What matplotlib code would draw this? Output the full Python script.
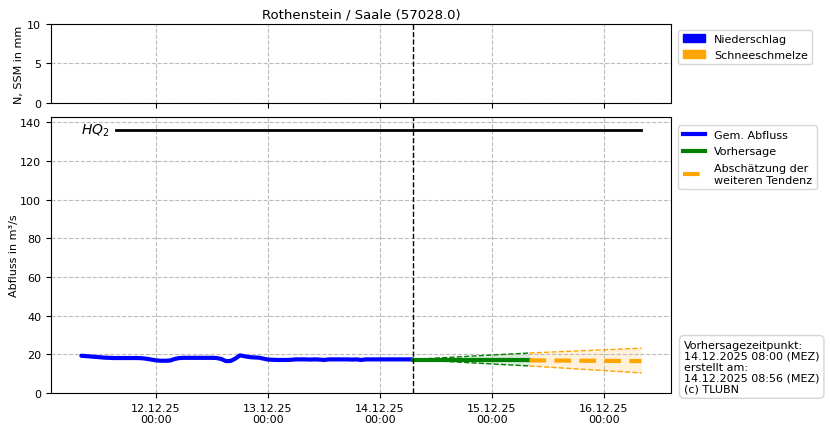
import matplotlib
matplotlib.use("Agg")
import matplotlib.pyplot as plt
import matplotlib.dates as mdates
from matplotlib.patches import Patch
from matplotlib.lines import Line2D
import pandas as pd

plt.rcParams['font.family'] = ['DejaVu Sans']

title = "Rothenstein / Saale (57028.0)"

# measured discharge, hourly from 11.12.2025 08:00 to 14.12.2025 07:00
obs_start = "2025-12-11 08:00"
obs_values = [
    19.3, 19.1, 18.9, 18.7, 18.5, 18.3, 18.2, 18.1, 18.1, 18.1,
    18.1, 18.1, 18.1, 18.0, 17.7, 17.3, 16.9, 16.7, 16.7, 16.8,
    17.6, 18.1, 18.2, 18.2, 18.2, 18.2, 18.2, 18.2, 18.2, 18.1,
    17.6, 16.5, 16.6, 17.8, 19.5, 19.0, 18.6, 18.4, 18.3, 17.8,
    17.3, 17.2, 17.1, 17.1, 17.1, 17.2, 17.4, 17.4, 17.4, 17.3,
    17.4, 17.3, 17.1, 17.4, 17.4, 17.4, 17.4, 17.4, 17.3, 17.4,
    17.1, 17.4, 17.4, 17.4, 17.4, 17.4, 17.4, 17.4, 17.4, 17.4,
    17.4, 17.4,
]

# forecast (green), 14.12 07:00 -> 15.12 08:00
fc_times = ["2025-12-14 07:00", "2025-12-14 13:00", "2025-12-14 19:00",
            "2025-12-15 01:00", "2025-12-15 08:00"]
fc_mid = [17.3, 17.3, 17.3, 17.3, 17.3]
fc_upper = [17.3, 18.2, 19.0, 19.8, 20.7]
fc_lower = [17.3, 16.5, 15.7, 14.9, 14.0]

# further tendency (orange), 15.12 08:00 -> 16.12 08:00
tend_times = ["2025-12-15 08:00", "2025-12-16 08:00"]
tend_mid = [16.9, 16.5]
tend_upper = [20.7, 23.2]
tend_lower = [14.0, 10.4]

hq2_value = 136
hq2_times = ["2025-12-11 15:30", "2025-12-16 08:00"]

forecast_time = "2025-12-14 07:00"
xlim = ["2025-12-11 01:30", "2025-12-16 14:20"]

info_text = ("Vorhersagezeitpunkt:\n14.12.2025 08:00 (MEZ)\nerstellt am:\n"
             "14.12.2025 08:56 (MEZ)\n(c) TLUBN")

obs_t = pd.date_range(obs_start, periods=len(obs_values), freq="h")
fc_t = pd.to_datetime(fc_times)
tend_t = pd.to_datetime(tend_times)
hq_t = pd.to_datetime(hq2_times)
ft = pd.Timestamp(forecast_time)
xl = pd.to_datetime(xlim)

fig = plt.figure(figsize=(8.3, 4.31), dpi=100)
ax1 = fig.add_axes([0.0614, 0.7587, 0.747, 0.1833])
ax2 = fig.add_axes([0.0614, 0.0858, 0.747, 0.6404], sharex=ax1)

grid_kw = dict(color="#bbbbbb", linestyle="--", linewidth=0.8)

# top panel
ax1.set_ylim(0, 10)
ax1.set_yticks([0, 5, 10])
ax1.grid(True, **grid_kw)
ax1.axvline(ft, color="black", linestyle="--", linewidth=1)
ax1.set_ylabel("N, SSM in mm", fontsize=8, labelpad=2)
ax1.tick_params(labelsize=8, labelbottom=False)
ax1.set_title(title, fontsize=9.5, pad=5)
ax1.legend(handles=[Patch(color="blue", label="Niederschlag"),
                    Patch(color="orange", label="Schneeschmelze")],
           loc="upper left", bbox_to_anchor=(1.003, 1.0), fontsize=8)

# bottom panel
ax2.plot(obs_t, obs_values, color="blue", linewidth=3, solid_capstyle="round")
ax2.fill_between(fc_t, fc_lower, fc_upper, color="green", alpha=0.15, linewidth=0)
ax2.plot(fc_t, fc_upper, color="green", linestyle="--", linewidth=1)
ax2.plot(fc_t, fc_lower, color="green", linestyle="--", linewidth=1)
ax2.plot(fc_t, fc_mid, color="green", linewidth=3)
ax2.fill_between(tend_t, tend_lower, tend_upper, color="orange", alpha=0.15, linewidth=0)
ax2.plot(tend_t, tend_upper, color="orange", linestyle="--", linewidth=1)
ax2.plot(tend_t, tend_lower, color="orange", linestyle="--", linewidth=1)
ax2.plot(tend_t, tend_mid, color="orange", linewidth=3, dashes=(4, 2))
ax2.plot(hq_t, [hq2_value, hq2_value], color="black", linewidth=2)
ax2.text(hq_t[0] - pd.Timedelta(hours=1.5), hq2_value, r"$HQ_2$", fontsize=10,
         ha="right", va="center")
ax2.axvline(ft, color="black", linestyle="--", linewidth=1)
ax2.set_ylim(0, hq2_value * 1.05)
ax2.set_yticks(range(0, 141, 20))
ax2.grid(True, **grid_kw)
ax2.set_ylabel("Abfluss in m³/s", fontsize=8, labelpad=1)
ax2.tick_params(labelsize=8)
ax2.set_xlim(xl[0], xl[1])
ax2.xaxis.set_major_locator(mdates.DayLocator())
ax2.xaxis.set_major_formatter(mdates.DateFormatter("%d.%m.%y\n%H:%M"))
for lbl in ax2.get_xticklabels():
    lbl.set_ha("center")

ax2.legend(handles=[Line2D([], [], color="blue", linewidth=3, label="Gem. Abfluss"),
                    Line2D([], [], color="green", linewidth=3, label="Vorhersage"),
                    Line2D([], [], color="orange", linewidth=3, dashes=(4, 2),
                           label="Abschätzung der\nweiteren Tendenz")],
           loc="upper left", bbox_to_anchor=(1.003, 0.99), fontsize=8,
           labelspacing=0.6)

ax2.text(1.021, -0.003, info_text, transform=ax2.transAxes, fontsize=8,
         ha="left", va="bottom", linespacing=1.12,
         bbox=dict(boxstyle="round,pad=0.4", facecolor="white",
                   edgecolor="#cccccc", alpha=0.8))

fig.savefig("out.png", dpi=100)
